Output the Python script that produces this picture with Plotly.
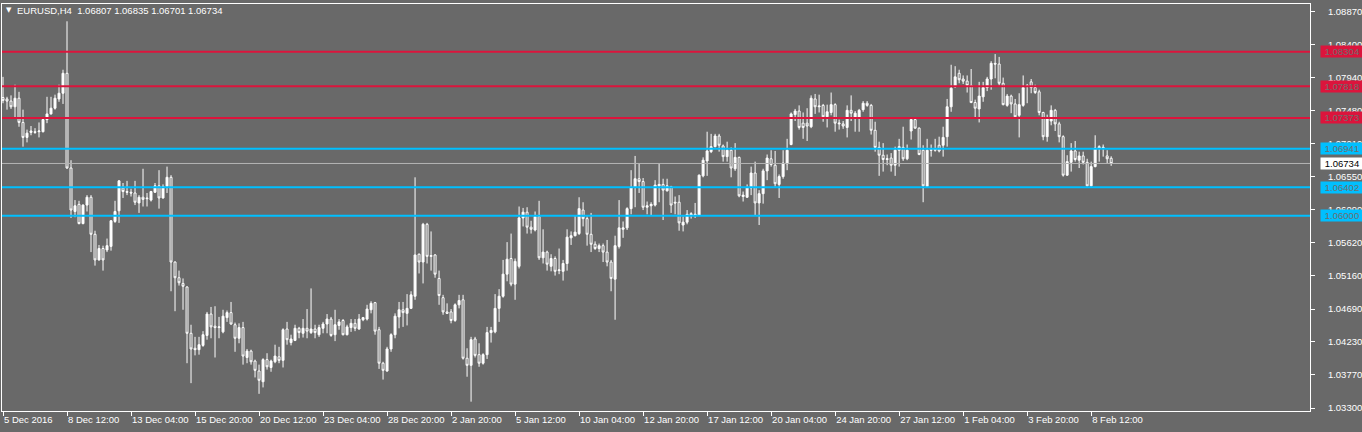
import plotly.graph_objects as go

symbol = "EURUSD,H4"

opens = [1.0766,1.0764,1.0761,1.0753,1.0765,1.0731,1.0710,1.0717,1.0718,1.0718,
1.0718,1.0735,1.0743,1.0751,1.0764,1.0772,1.0800,1.0667,1.0606,1.0616,
1.0589,1.0615,1.0626,1.0574,1.0538,1.0554,1.0552,1.0557,1.0592,1.0607,
1.0639,1.0634,1.0633,1.0632,1.0618,1.0626,1.0625,1.0622,1.0633,1.0642,
1.0625,1.0641,1.0654,1.0535,1.0513,1.0505,1.0500,1.0435,1.0414,1.0412,
1.0418,1.0432,1.0462,1.0445,1.0443,1.0437,1.0457,1.0464,1.0447,1.0428,
1.0443,1.0401,1.0410,1.0396,1.0382,1.0367,1.0398,1.0387,1.0395,1.0402,
1.0397,1.0441,1.0422,1.0425,1.0442,1.0435,1.0442,1.0436,1.0441,1.0433,
1.0442,1.0448,1.0455,1.0433,1.0446,1.0453,1.0433,1.0443,1.0449,1.0441,
1.0454,1.0455,1.0468,1.0478,1.0440,1.0393,1.0382,1.0413,1.0433,1.0458,
1.0468,1.0463,1.0470,1.0487,1.0546,1.0535,1.0588,1.0543,1.0545,1.0512,
1.0485,1.0465,1.0465,1.0453,1.0475,1.0482,1.0400,1.0390,1.0427,1.0405,
1.0393,1.0405,1.0436,1.0437,1.0470,1.0487,1.0518,1.0540,1.0504,1.0529,
1.0597,1.0605,1.0584,1.0580,1.0599,1.0541,1.0549,1.0529,1.0540,1.0523,
1.0522,1.0533,1.0569,1.0572,1.0575,1.0608,1.0596,1.0574,1.0560,1.0554,
1.0558,1.0549,1.0535,1.0511,1.0557,1.0581,1.0583,1.0610,1.0640,1.0652,
1.0648,1.0612,1.0614,1.0615,1.0642,1.0644,1.0635,1.0641,1.0619,1.0619,
1.0587,1.0591,1.0603,1.0601,1.0601,1.0656,1.0677,1.0690,1.0697,1.0712,
1.0698,1.0683,1.0692,1.0666,1.0682,1.0627,1.0626,1.0639,1.0660,1.0618,
1.0631,1.0663,1.0680,1.0671,1.0644,1.0655,1.0673,1.0700,1.0742,1.0747,
1.0730,1.0730,1.0725,1.0764,1.0753,1.0755,1.0739,1.0745,1.0756,1.0729,
1.0729,1.0724,1.0748,1.0738,1.0737,1.0749,1.0758,1.0755,1.0720,1.0696,
1.0685,1.0679,1.0681,1.0671,1.0692,1.0696,1.0680,1.0719,1.0735,1.0723,
1.0692,1.0641,1.0693,1.0692,1.0699,1.0699,1.0711,1.0753,1.0781,1.0800,
1.0792,1.0789,1.0783,1.0759,1.0750,1.0767,1.0780,1.0792,1.0814,1.0813,
1.0786,1.0755,1.0768,1.0757,1.0741,1.0755,1.0783,1.0788,1.0780,1.0774,
1.0745,1.0711,1.0733,1.0748,1.0729,1.0711,1.0657,1.0675,1.0691,1.0678,
1.0684,1.0675,1.0642,1.0669,1.0697,1.0695,1.0684,1.06807]

highs = [1.0795,1.0767,1.0769,1.0784,1.0774,1.0749,1.0721,1.0726,1.0723,1.0731,
1.0737,1.0767,1.0767,1.0770,1.0784,1.0805,1.0873,1.0678,1.0622,1.0621,
1.0616,1.0629,1.0629,1.0579,1.0559,1.0558,1.0568,1.0594,1.0621,1.0650,
1.0646,1.0649,1.0638,1.0649,1.0629,1.0666,1.0632,1.0635,1.0646,1.0664,
1.0644,1.0669,1.0657,1.0536,1.0523,1.0512,1.0501,1.0447,1.0430,1.0430,
1.0438,1.0465,1.0472,1.0473,1.0458,1.0468,1.0467,1.0479,1.0450,1.0449,
1.0451,1.0413,1.0412,1.0398,1.0391,1.0400,1.0407,1.0398,1.0419,1.0416,
1.0442,1.0451,1.0433,1.0447,1.0444,1.0455,1.0469,1.0498,1.0447,1.0447,
1.0451,1.0462,1.0458,1.0468,1.0455,1.0455,1.0447,1.0455,1.0455,1.0462,
1.0458,1.0475,1.0480,1.0479,1.0444,1.0395,1.0416,1.0435,1.0463,1.0479,
1.0479,1.0490,1.0494,1.0654,1.0547,1.0590,1.0590,1.0578,1.0546,1.0523,
1.0489,1.0477,1.0469,1.0477,1.0489,1.0489,1.0414,1.0430,1.0430,1.0421,
1.0407,1.0444,1.0444,1.0490,1.0497,1.0538,1.0563,1.0575,1.0540,1.0613,
1.0611,1.0612,1.0593,1.0606,1.0621,1.0581,1.0551,1.0546,1.0543,1.0554,
1.0538,1.0581,1.0578,1.0601,1.0626,1.0619,1.0599,1.0604,1.0564,1.0561,
1.0561,1.0566,1.0538,1.0572,1.0622,1.0592,1.0612,1.0664,1.0684,1.0674,
1.0653,1.0620,1.0619,1.0650,1.0674,1.0652,1.0652,1.0642,1.0627,1.0629,
1.0599,1.0608,1.0605,1.0618,1.0658,1.0682,1.0718,1.0715,1.0715,1.0715,
1.0700,1.0704,1.0696,1.0702,1.0683,1.0634,1.0644,1.0669,1.0676,1.0636,
1.0666,1.0686,1.0692,1.0691,1.0658,1.0692,1.0708,1.0745,1.0750,1.0755,
1.0745,1.0751,1.0769,1.0771,1.0770,1.0757,1.0756,1.0773,1.0758,1.0735,
1.0733,1.0755,1.0769,1.0747,1.0750,1.0761,1.0761,1.0757,1.0732,1.0704,
1.0702,1.0686,1.0688,1.0697,1.0708,1.0725,1.0700,1.0738,1.0736,1.0724,
1.0699,1.0708,1.0700,1.0708,1.0711,1.0725,1.0764,1.0812,1.0810,1.0805,
1.0797,1.0797,1.0806,1.0763,1.0788,1.0788,1.0795,1.0817,1.0827,1.0823,
1.0794,1.0771,1.0770,1.0764,1.0772,1.0797,1.0785,1.0792,1.0784,1.0777,
1.0746,1.0742,1.0755,1.0750,1.0732,1.0713,1.0685,1.0702,1.0705,1.0690,
1.0690,1.0680,1.0676,1.0713,1.0699,1.0700,1.0692,1.06835]

lows = [1.0758,1.0749,1.0750,1.0738,1.0725,1.0697,1.0703,1.0713,1.0715,1.0710,
1.0717,1.0730,1.0742,1.0749,1.0760,1.0757,1.0666,1.0597,1.0598,1.0588,
1.0588,1.0606,1.0549,1.0530,1.0537,1.0523,1.0549,1.0551,1.0590,1.0590,
1.0625,1.0629,1.0627,1.0615,1.0604,1.0613,1.0613,1.0620,1.0632,1.0610,
1.0624,1.0632,1.0494,1.0466,1.0502,1.0468,1.0393,1.0365,1.0404,1.0405,
1.0416,1.0426,1.0428,1.0401,1.0428,1.0435,1.0451,1.0447,1.0409,1.0421,
1.0391,1.0393,1.0391,1.0373,1.0350,1.0359,1.0384,1.0381,1.0393,1.0393,
1.0387,1.0419,1.0418,1.0424,1.0428,1.0429,1.0428,1.0434,1.0428,1.0430,
1.0435,1.0435,1.0430,1.0424,1.0440,1.0432,1.0432,1.0437,1.0438,1.0440,
1.0452,1.0453,1.0463,1.0433,1.0385,1.0370,1.0381,1.0409,1.0428,1.0442,
1.0444,1.0446,1.0469,1.0482,1.0519,1.0505,1.0533,1.0523,1.0513,1.0475,
1.0461,1.0462,1.0449,1.0451,1.0470,1.0398,1.0374,1.0339,1.0401,1.0388,
1.0391,1.0399,1.0422,1.0435,1.0451,1.0485,1.0508,1.0501,1.0482,1.0526,
1.0585,1.0575,1.0575,1.0578,1.0538,1.0533,1.0523,1.0522,1.0516,1.0518,
1.0509,1.0523,1.0559,1.0571,1.0573,1.0585,1.0558,1.0549,1.0552,1.0549,
1.0535,1.0529,1.0494,1.0454,1.0554,1.0569,1.0580,1.0602,1.0612,1.0632,
1.0608,1.0602,1.0601,1.0613,1.0619,1.0594,1.0634,1.0604,1.0602,1.0579,
1.0578,1.0588,1.0596,1.0597,1.0600,1.0654,1.0656,1.0688,1.0696,1.0690,
1.0676,1.0676,1.0654,1.0663,1.0626,1.0620,1.0625,1.0629,1.0601,1.0587,
1.0617,1.0650,1.0669,1.0641,1.0625,1.0652,1.0664,1.0699,1.0733,1.0721,
1.0708,1.0705,1.0723,1.0743,1.0745,1.0732,1.0724,1.0741,1.0718,1.0721,
1.0722,1.0710,1.0733,1.0718,1.0718,1.0746,1.0753,1.0714,1.0690,1.0656,
1.0662,1.0671,1.0662,1.0656,1.0669,1.0677,1.0678,1.0707,1.0722,1.0685,
1.0619,1.0640,1.0683,1.0690,1.0689,1.0683,1.0697,1.0746,1.0780,1.0786,
1.0785,1.0773,1.0758,1.0738,1.0731,1.0760,1.0775,1.0777,1.0793,1.0783,
1.0755,1.0753,1.0744,1.0738,1.0710,1.0753,1.0758,1.0772,1.0771,1.0741,
1.0706,1.0704,1.0727,1.0719,1.0703,1.0655,1.0656,1.0662,1.0676,1.0667,
1.0672,1.0641,1.0641,1.0668,1.0676,1.0683,1.0674,1.06701]

closes = [1.0762,1.0761,1.0753,1.0765,1.0731,1.0710,1.0716,1.0719,1.0717,1.0719,
1.0735,1.0743,1.0751,1.0765,1.0772,1.0800,1.0667,1.0608,1.0614,1.0589,
1.0615,1.0626,1.0574,1.0538,1.0554,1.0538,1.0558,1.0593,1.0606,1.0649,
1.0634,1.0633,1.0632,1.0619,1.0626,1.0623,1.0624,1.0634,1.0642,1.0625,
1.0641,1.0654,1.0535,1.0513,1.0506,1.0501,1.0435,1.0413,1.0412,1.0419,
1.0433,1.0462,1.0444,1.0443,1.0444,1.0459,1.0464,1.0448,1.0428,1.0443,
1.0403,1.0410,1.0395,1.0383,1.0369,1.0398,1.0388,1.0396,1.0403,1.0397,
1.0440,1.0426,1.0427,1.0442,1.0436,1.0442,1.0438,1.0441,1.0436,1.0443,
1.0448,1.0455,1.0432,1.0447,1.0451,1.0433,1.0444,1.0449,1.0442,1.0455,
1.0457,1.0469,1.0477,1.0438,1.0393,1.0383,1.0413,1.0433,1.0459,1.0468,
1.0464,1.0470,1.0489,1.0545,1.0535,1.0588,1.0543,1.0544,1.0518,1.0488,
1.0465,1.0463,1.0453,1.0475,1.0481,1.0400,1.0390,1.0426,1.0404,1.0393,
1.0405,1.0436,1.0439,1.0470,1.0487,1.0518,1.0539,1.0504,1.0536,1.0597,
1.0605,1.0584,1.0581,1.0599,1.0541,1.0549,1.0532,1.0540,1.0522,1.0524,
1.0533,1.0570,1.0572,1.0577,1.0610,1.0596,1.0574,1.0560,1.0554,1.0558,
1.0549,1.0535,1.0512,1.0558,1.0583,1.0583,1.0610,1.0640,1.0652,1.0648,
1.0612,1.0614,1.0616,1.0643,1.0644,1.0636,1.0642,1.0615,1.0618,1.0590,
1.0591,1.0602,1.0601,1.0602,1.0657,1.0678,1.0691,1.0697,1.0712,1.0699,
1.0683,1.0692,1.0667,1.0682,1.0628,1.0629,1.0639,1.0660,1.0618,1.0631,
1.0663,1.0681,1.0672,1.0645,1.0655,1.0674,1.0692,1.0743,1.0747,1.0724,
1.0724,1.0726,1.0765,1.0753,1.0754,1.0739,1.0746,1.0756,1.0730,1.0730,
1.0726,1.0748,1.0744,1.0744,1.0748,1.0758,1.0755,1.0720,1.0696,1.0685,
1.0679,1.0680,1.0671,1.0692,1.0697,1.0680,1.0692,1.0735,1.0723,1.0686,
1.0642,1.0692,1.0692,1.0694,1.0691,1.0710,1.0753,1.0779,1.0795,1.0791,
1.0789,1.0783,1.0759,1.0751,1.0768,1.0780,1.0792,1.0814,1.0813,1.0786,
1.0756,1.0768,1.0757,1.0739,1.0756,1.0780,1.0782,1.0780,1.0773,1.0745,
1.0711,1.0736,1.0748,1.0729,1.0711,1.0657,1.0676,1.0691,1.0679,1.0684,
1.0675,1.0642,1.0669,1.0695,1.0695,1.0696,1.0680,1.06734]

bars = list(range(len(opens)))

date_tick_bars = [0, 16, 32, 48, 64, 80, 96, 112, 128, 144, 160, 176, 192, 208, 224, 240, 256, 272]
date_tick_labels = ["5 Dec 2016", "8 Dec 12:00", "13 Dec 04:00", "15 Dec 20:00", "20 Dec 12:00",
                    "23 Dec 04:00", "28 Dec 20:00", "2 Jan 20:00", "5 Jan 12:00", "10 Jan 04:00",
                    "12 Jan 20:00", "17 Jan 12:00", "20 Jan 04:00", "24 Jan 20:00", "27 Jan 12:00",
                    "1 Feb 04:00", "3 Feb 20:00", "8 Feb 12:00"]

price_ticks = [1.08870, 1.08400, 1.07940, 1.07480, 1.07010, 1.06550, 1.06090,
               1.05620, 1.05160, 1.04690, 1.04230, 1.03770, 1.03300]

resistance_levels = [1.08304, 1.07818, 1.07373]
support_levels = [1.06941, 1.06402, 1.06000]
bid_price = 1.06734

BG = "#696969"
RED = "#DC143C"
CYAN = "#00BFFF"
FONT = "Liberation Sans, Arial, sans-serif"

fig = go.Figure(go.Candlestick(
    x=bars, open=opens, high=highs, low=lows, close=closes,
    increasing=dict(line=dict(color="white", width=1), fillcolor="white"),
    decreasing=dict(line=dict(color="white", width=1), fillcolor=BG),
    whiskerwidth=0, hoverinfo="skip", showlegend=False,
))

shapes = []
for lv in resistance_levels:
    shapes.append(dict(type="line", xref="paper", x0=0, x1=1, yref="y", y0=lv, y1=lv,
                       line=dict(color=RED, width=2), layer="above"))
for lv in support_levels:
    shapes.append(dict(type="line", xref="paper", x0=0, x1=1, yref="y", y0=lv, y1=lv,
                       line=dict(color=CYAN, width=2), layer="above"))
shapes.append(dict(type="line", xref="paper", x0=0, x1=1, yref="y", y0=bid_price, y1=bid_price,
                   line=dict(color="#B4B4B4", width=1), layer="above"))

annotations = []

def price_box(val, bg, fg):
    annotations.append(dict(
        xref="paper", x=1, xanchor="left", xshift=10,
        yref="y", y=val, yanchor="middle",
        text=f"{val:.5f}", showarrow=False,
        font=dict(family=FONT, size=9.5, color=fg),
        bgcolor=bg, width=40, height=9, borderpad=1, align="center"))

for lv in resistance_levels:
    price_box(lv, RED, "#6e6e6e")
for lv in support_levels:
    price_box(lv, CYAN, "#6e6e6e")
price_box(bid_price, "white", "black")

header = f"{symbol}  {opens[-1]:.5f} {highs[-1]:.5f} {lows[-1]:.5f} {closes[-1]:.5f}"
annotations.append(dict(xref="paper", yref="paper", x=0, y=1, xanchor="left", yanchor="top",
                        xshift=13, yshift=1, text=header, showarrow=False,
                        font=dict(family=FONT, size=9.5, color="white")))
annotations.append(dict(xref="paper", yref="paper", x=0, y=1, xanchor="left", yanchor="top",
                        xshift=2, yshift=0, text="▼", showarrow=False,
                        font=dict(family="DejaVu Sans", size=7, color="white")))

fig.update_layout(
    width=1362, height=432,
    margin=dict(l=2, r=52, t=4, b=21, autoexpand=False),
    paper_bgcolor=BG, plot_bgcolor=BG,
    font=dict(family=FONT, size=9.5, color="white"),
    shapes=shapes, annotations=annotations,
    xaxis=dict(range=[-0.25, 326.7], rangeslider=dict(visible=False), automargin=False,
               showgrid=False, zeroline=False, showline=True, linecolor="white", linewidth=1,
               mirror=True, ticks="outside", ticklen=4, tickcolor="white",
               tickvals=date_tick_bars, ticktext=date_tick_labels, tickangle=0,
               ticklabelposition="outside right",
               tickfont=dict(family=FONT, size=9.5, color="white")),
    yaxis=dict(range=[1.03259, 1.08973], side="right", automargin=False,
               showgrid=False, zeroline=False, showline=True, linecolor="white", linewidth=1,
               mirror=True, ticks="outside", ticklen=4, tickcolor="white",
               tickvals=price_ticks, ticktext=[f"{v:.5f}" for v in price_ticks],
               ticklabelstandoff=11,
               tickfont=dict(family=FONT, size=9.5, color="white")),
)

fig.write_html("out.html", config={"displayModeBar": False},
               post_script="document.body.style.margin='0';document.body.style.background='#696969';")
